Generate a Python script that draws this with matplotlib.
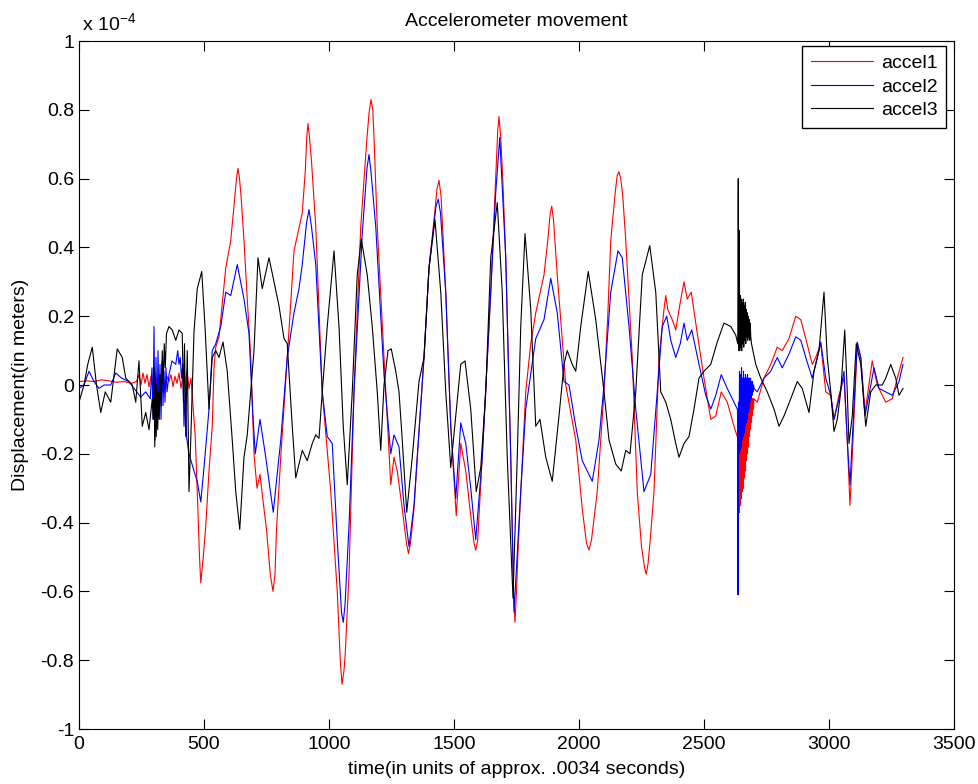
import matplotlib
matplotlib.use("Agg")
import matplotlib.pyplot as plt
from matplotlib.ticker import FuncFormatter

plt.rcParams['font.family'] = ['Liberation Sans', 'DejaVu Sans']
plt.rcParams['axes.unicode_minus'] = False
plt.rcParams['mathtext.fontset'] = 'custom'
plt.rcParams['mathtext.rm'] = 'Liberation Sans'

# displacement values, in units of 1e-4 m
t1 = [0, 30, 60, 90, 120, 150, 180, 210, 230, 240, 248, 256, 264, 272, 280, 288, 296, 304, 312,
      320, 328, 336, 344, 352, 360, 368, 376, 384, 392, 400, 408, 416, 424, 432, 440, 448, 455,
      465, 475, 482, 487, 497, 507, 520, 533, 540, 547, 560, 575, 587, 607, 620, 630, 636, 642,
      648, 660, 673, 687, 700, 712, 724, 735, 750, 765, 776, 784, 790, 807, 833, 860, 893, 905,
      911, 916, 922, 930, 947, 973, 1007, 1033, 1045, 1052, 1060, 1065, 1080, 1100, 1127, 1150,
      1160, 1168, 1175, 1180, 1193, 1220, 1247, 1260, 1273, 1293, 1310, 1318, 1326, 1340, 1353,
      1380, 1400, 1420, 1432, 1440, 1448, 1455, 1467, 1487, 1509, 1520, 1527, 1547, 1567, 1580,
      1587, 1595, 1600, 1613, 1647, 1667, 1675, 1680, 1687, 1695, 1707, 1727, 1738, 1744, 1750,
      1755, 1767, 1787, 1807, 1827, 1860, 1875, 1885, 1891, 1898, 1913, 1947, 1987, 2013, 2030,
      2040, 2050, 2073, 2100, 2115, 2127, 2145, 2153, 2160, 2167, 2175, 2187, 2213, 2233, 2250,
      2262, 2269, 2276, 2285, 2300, 2320, 2340, 2347, 2355, 2373, 2387, 2405, 2420, 2433, 2449,
      2473, 2500, 2527, 2547, 2569, 2593, 2620, 2633,
      2636, 2638, 2640, 2642, 2644, 2646, 2648, 2650, 2652, 2654, 2656, 2658, 2660, 2662, 2664,
      2666, 2668, 2670, 2672, 2674, 2676, 2678, 2680, 2682, 2684, 2686, 2688, 2690, 2692, 2694,
      2696, 2698, 2700,
      2713, 2740, 2767, 2793, 2813, 2840, 2867, 2887, 2907, 2933, 2947, 2967, 2987, 3007, 3020,
      3040, 3060, 3073, 3084, 3096, 3113, 3127, 3144, 3173, 3193, 3227, 3253, 3273, 3296]
accel1 = [0.01, 0.012, 0.01, 0.015, 0.012, 0.008, 0.01, 0.005, 0.01, 0.03, 0.0, 0.035, 0.005, 0.03,
          -0.005, 0.025, 0.0, 0.04, -0.01, 0.03, 0.0, 0.02, -0.01, 0.025, 0.01, 0.03, -0.005, 0.025,
          0.005, 0.035, -0.01, 0.03, 0.0, 0.04, -0.01, 0.02, -0.05,
          -0.15, -0.35, -0.5, -0.575, -0.5, -0.41, -0.25, -0.12, 0.05, 0.11, 0.14, 0.25, 0.34,
          0.42, 0.52, 0.6, 0.63, 0.6, 0.55, 0.42, 0.25, 0.08, -0.2, -0.3, -0.26, -0.33, -0.42,
          -0.55, -0.60, -0.55, -0.42, -0.21, 0.08, 0.39, 0.5, 0.62, 0.72, 0.76, 0.72, 0.65, 0.46,
          -0.02, -0.31, -0.6, -0.8, -0.87, -0.83, -0.78, -0.55, -0.02, 0.46, 0.70, 0.79, 0.83,
          0.8, 0.72, 0.46, 0.08, -0.29, -0.21, -0.25, -0.36, -0.46, -0.49, -0.46, -0.36, -0.21,
          0.08, 0.34, 0.48, 0.57, 0.595, 0.55, 0.45, 0.27, -0.12, -0.38, -0.25, -0.17, -0.25,
          -0.38, -0.46, -0.48, -0.45, -0.38, -0.21, 0.27, 0.61, 0.74, 0.78, 0.72, 0.6, 0.37, -0.21,
          -0.6, -0.69, -0.6, -0.5, -0.31, -0.02, 0.12, 0.21, 0.32, 0.42, 0.5, 0.52, 0.48, 0.32,
          0.0, -0.16, -0.36, -0.46, -0.48, -0.45, -0.31, -0.02, 0.2, 0.42, 0.56, 0.61, 0.62, 0.6,
          0.55, 0.42, 0.08, -0.31, -0.47, -0.53, -0.55, -0.52, -0.45, -0.31, 0.08, 0.22, 0.26,
          0.22, 0.19, 0.16, 0.24, 0.30, 0.25, 0.27, 0.15, 0.02, -0.1, -0.09, -0.02, -0.05, -0.12,
          -0.15,
          -0.16, -0.39, -0.14, -0.37, -0.13, -0.35, -0.12, -0.33, -0.11, -0.31, -0.1, -0.3, -0.09,
          -0.27, -0.09, -0.25, -0.08, -0.22, -0.07, -0.2, -0.06, -0.18, -0.06, -0.15, -0.05, -0.13,
          -0.05, -0.11, -0.04, -0.09, -0.04, -0.07, -0.04,
          -0.05, 0.02, 0.06, 0.11, 0.1, 0.135, 0.2, 0.19, 0.135, 0.06, 0.08, 0.12, -0.02, -0.03,
          -0.1, -0.03, 0.02, -0.16, -0.35, -0.16, 0.12, 0.08, -0.08, 0.07, 0.0, -0.05, -0.04,
          0.02, 0.08]

t2 = [0, 20, 40, 60, 80, 100, 127, 147, 170, 200, 220, 247, 267, 285, 292, 296, 300, 304, 308,
      312, 316, 320, 324, 328, 332, 336, 340, 344, 348, 352, 360, 372, 387, 395, 400, 405, 410,
      415, 420, 425, 430, 440, 460, 473, 487, 500, 520, 533, 547, 567, 587, 607, 633, 660, 680,
      695, 705, 724, 747, 777, 807, 833, 860, 880, 893, 910, 920, 930, 947, 973, 993, 1013, 1033,
      1050, 1057, 1064, 1080, 1100, 1133, 1152, 1160, 1168, 1187, 1220, 1247, 1260, 1280, 1300,
      1320, 1340, 1353, 1380, 1400, 1428, 1437, 1446, 1467, 1487, 1507, 1527, 1547, 1567, 1587,
      1613, 1647, 1667, 1683, 1707, 1727, 1740, 1767, 1787, 1827, 1860, 1887, 1913, 1940, 1960,
      1987, 2013, 2053, 2080, 2100, 2127, 2156, 2173, 2200, 2227, 2260, 2287, 2313, 2333, 2351,
      2367, 2387, 2405, 2420, 2433, 2451, 2480, 2507, 2527, 2547, 2569, 2593, 2620, 2633, 2634,
      2636, 2638, 2640, 2642, 2644, 2646, 2648, 2650, 2652, 2654, 2656, 2658, 2660, 2662, 2664,
      2666, 2668, 2670, 2672, 2674, 2676, 2678, 2680, 2682, 2684, 2686, 2688, 2690, 2692, 2694,
      2696, 2698, 2700,
      2713, 2740, 2767, 2793, 2813, 2840, 2867, 2887, 2907, 2933, 2947, 2967, 2987, 3007, 3020,
      3040, 3060, 3073, 3084, 3096, 3113, 3127, 3144, 3180, 3200, 3227, 3253, 3280, 3296]
accel2 = [-0.01, 0.0, 0.04, 0.01, -0.01, 0.0, 0.0, 0.035, 0.02, 0.01, -0.01, -0.035, -0.02, -0.04,
          0.05, -0.1, 0.17, -0.16, 0.08, -0.12, 0.1, -0.08, 0.06, -0.1, 0.07, -0.06, 0.04, -0.05,
          0.05, -0.02, 0.03, 0.07, 0.06, 0.1, 0.06, 0.08, 0.02, 0.06, -0.12, 0.0, -0.15, -0.2,
          -0.25, -0.28, -0.34, -0.24, -0.07, 0.1, 0.12, 0.17, 0.27, 0.26, 0.35, 0.25, 0.15, -0.08,
          -0.2, -0.1, -0.21, -0.37, -0.16, 0.08, 0.21, 0.28, 0.35, 0.47, 0.51, 0.46, 0.35, -0.02,
          -0.15, -0.17, -0.45, -0.66, -0.69, -0.64, -0.41, -0.02, 0.44, 0.63, 0.67, 0.62, 0.46,
          0.03, -0.2, -0.145, -0.18, -0.35, -0.47, -0.35, -0.21, 0.08, 0.34, 0.52, 0.54, 0.5,
          0.27, -0.12, -0.33, -0.11, -0.17, -0.3, -0.45, -0.21, 0.27, 0.56, 0.72, 0.37, -0.21,
          -0.66, -0.31, -0.07, 0.135, 0.19, 0.31, 0.21, 0.01, 0.0, -0.12, -0.22, -0.28, -0.16, 0.0,
          0.27, 0.39, 0.37, 0.17, -0.07, -0.31, -0.26, -0.02, 0.17, 0.2, 0.13, 0.08, 0.12, 0.18,
          0.13, 0.16, 0.06, -0.03, -0.07, -0.03, 0.03, -0.01, -0.05, -0.07, -0.07,
          -0.61, -0.05, -0.2, 0.04, -0.19, 0.03, -0.18, 0.05, -0.16, 0.02, -0.15, 0.04, -0.14,
          0.02, -0.12, 0.03, -0.11, 0.02, -0.1, 0.03, -0.08, 0.02, -0.07, 0.02, -0.05, 0.02,
          -0.04, 0.01, -0.03, 0.01, -0.02, 0.0, -0.01,
          -0.02, 0.02, 0.04, 0.08, 0.05, 0.09, 0.14, 0.13, 0.08, 0.02, 0.06, 0.125, 0.02, -0.03,
          -0.1, -0.04, 0.04, -0.16, -0.29, -0.12, 0.125, 0.08, -0.09, 0.05, -0.01, -0.02, -0.03,
          0.01, 0.06]

t3 = [0, 20, 35, 53, 70, 87, 105, 127, 153, 173, 187, 213, 227, 240, 253, 267, 280, 293, 297,
      300, 303, 306, 309, 312, 315, 318, 321, 325, 329, 333, 337, 341, 345, 350, 360, 373, 387,
      400, 413, 418, 422, 427, 433, 440, 447, 460, 473, 491, 504, 520, 533, 547, 560, 576, 593,
      613, 627, 643, 660, 673, 687, 700, 716, 733, 760, 780, 800, 820, 833, 853, 867, 893, 913,
      933, 947, 960, 973, 993, 1020, 1040, 1057, 1073, 1093, 1113, 1129, 1153, 1173, 1193, 1207,
      1220, 1236, 1249, 1267, 1280, 1293, 1311, 1333, 1360, 1380, 1400, 1424, 1447, 1467, 1487,
      1507, 1527, 1544, 1567, 1589, 1607, 1627, 1647, 1673, 1693, 1713, 1736, 1753, 1767, 1784,
      1807, 1827, 1844, 1867, 1893, 1920, 1940, 1953, 1973, 1987, 2007, 2037, 2067, 2100, 2120,
      2147, 2169, 2187, 2204, 2227, 2253, 2283, 2307, 2327, 2347, 2367, 2387, 2400, 2420, 2440,
      2460, 2480, 2500, 2527, 2553, 2580, 2607, 2627,
      2635, 2637, 2639, 2641, 2643, 2645, 2647, 2649, 2651, 2653, 2655, 2657, 2659, 2661, 2663,
      2665, 2667, 2669, 2671, 2673, 2675, 2677, 2679, 2681, 2683, 2685, 2687, 2690,
      2707, 2727, 2753, 2780, 2800, 2820, 2847, 2873, 2893, 2920, 2940, 2960, 2980, 2993, 3007,
      3020, 3033, 3047, 3063, 3073, 3080, 3093, 3109, 3127, 3147, 3167, 3187, 3213, 3227, 3247,
      3267, 3280, 3296]
accel3 = [-0.05, 0.0, 0.06, 0.11, 0.0, -0.08, -0.02, -0.05, 0.105, 0.08, 0.02, 0.0, -0.05, 0.07,
          -0.12, -0.08, -0.13, -0.04, -0.1, 0.05, -0.18, 0.02, -0.15, 0.0, -0.13, -0.02, -0.1,
          0.03, -0.06, 0.1, 0.0, 0.12, 0.05, 0.15, 0.17, 0.16, 0.13, 0.16, 0.15, -0.05, 0.12,
          -0.15, 0.1, -0.31, -0.16, 0.155, 0.28, 0.33, 0.17, -0.07, 0.08, 0.1, 0.08, 0.125, 0.04,
          -0.16, -0.31, -0.42, -0.21, -0.145, -0.02, 0.1, 0.37, 0.28, 0.37, 0.3, 0.23, 0.135,
          0.12, -0.12, -0.27, -0.19, -0.22, -0.17, -0.145, -0.155, -0.02, 0.17, 0.39, 0.17, -0.12,
          -0.29, -0.02, 0.32, 0.425, 0.32, 0.17, -0.02, -0.19, 0.0, 0.1, 0.105, 0.04, -0.02,
          -0.16, -0.37, -0.21, 0.01, 0.08, 0.34, 0.48, 0.27, -0.02, -0.24, -0.09, 0.06, 0.07,
          -0.07, -0.31, -0.24, -0.02, 0.37, 0.53, 0.27, -0.21, -0.62, -0.21, 0.17, 0.44, 0.22,
          -0.12, -0.1, -0.21, -0.28, -0.09, 0.06, 0.1, 0.06, 0.04, 0.17, 0.33, 0.19, -0.02, -0.16,
          -0.23, -0.25, -0.19, -0.2, -0.02, 0.32, 0.405, 0.27, -0.02, -0.05, -0.1, -0.17, -0.21,
          -0.17, -0.15, -0.07, 0.02, 0.04, 0.06, 0.125, 0.18, 0.17, 0.145,
          0.12, 0.6, 0.1, 0.45, 0.1, 0.26, 0.11, 0.25, 0.1, 0.24, 0.12, 0.25, 0.11, 0.23, 0.13,
          0.24, 0.12, 0.22, 0.14, 0.21, 0.13, 0.2, 0.14, 0.19, 0.13, 0.18, 0.14, 0.12,
          0.06, 0.02, -0.02, -0.07, -0.12, -0.09, -0.04, 0.01, -0.01, -0.08, 0.04, 0.1, 0.27,
          0.08, -0.02, -0.135, -0.1, -0.02, 0.16, -0.02, -0.17, -0.09, 0.12, 0.06, -0.12, -0.02,
          0.0, 0.0, 0.02, 0.06, 0.02, -0.03, -0.01]

xticks = [0, 500, 1000, 1500, 2000, 2500, 3000, 3500]
yticks = [-1, -0.8, -0.6, -0.4, -0.2, 0, 0.2, 0.4, 0.6, 0.8, 1]

fig = plt.figure(figsize=(9.79, 7.84), dpi=100)
ax = fig.add_axes([79 / 979, 1 - 729 / 784, 875 / 979, 688 / 784])

ax.plot(t1, accel1, color='#ff0000', lw=0.8, label='accel1')
ax.plot(t2, accel2, color='#0000ff', lw=0.8, label='accel2')
ax.plot(t3, accel3, color='black', lw=0.8, label='accel3')

ax.set_xlim(0, 3500)
ax.set_ylim(-1, 1)
ax.set_xticks(xticks)
ax.set_yticks(yticks)
ax.yaxis.set_major_formatter(FuncFormatter(lambda v, p: f'{v:g}'))
ax.tick_params(direction='in', top=True, right=True, length=7, width=0.8, labelsize=14)
ax.tick_params(axis='x', pad=5)
for s in ax.spines.values():
    s.set_linewidth(0.8)

ax.set_title('Accelerometer movement', fontsize=14, pad=11)
ax.set_xlabel('time(in units of approx. .0034 seconds)', fontsize=14, labelpad=6)
ax.set_ylabel('Displacement(in meters)', fontsize=14, labelpad=8)
ax.text(0.003, 1.008, r'x 10$^{\mathrm{-4}}$', transform=ax.transAxes, fontsize=14, va='bottom')

ax.legend(loc='upper right', bbox_to_anchor=(0.991, 0.993), fontsize=14, fancybox=False,
          edgecolor='black', framealpha=1, handlelength=3.2, handletextpad=0.4,
          labelspacing=0.3, borderpad=0.45, borderaxespad=0)

fig.savefig('out.png', dpi=100)
